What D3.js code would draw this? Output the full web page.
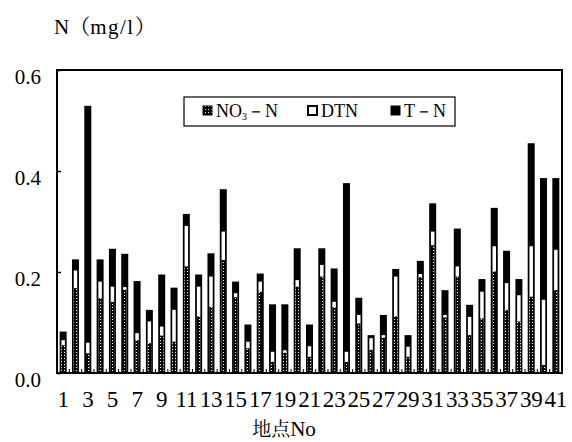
<!DOCTYPE html>
<html>
<head>
<meta charset="utf-8">
<script src="https://cdn.jsdelivr.net/npm/d3@7"></script>
<style>
body { margin: 0; background: #fff; }
</style>
</head>
<body>
<svg id="chart" width="572" height="442"></svg>
<script>
// station numbers and values (mg/l)
const stations = d3.range(1, 42)
const tn  = [0.082,0.225,0.529,0.225,0.246,0.236,0.182,0.125,0.195,0.169,0.315,0.195,0.237,0.364,0.181,0.096,0.197,0.136,0.136,0.247,0.096,0.247,0.207,0.376,0.149,0.075,0.115,0.206,0.075,0.222,0.336,0.164,0.286,0.135,0.186,0.327,0.242,0.186,0.455,0.386,0.386]
const dtn = [0.065,0.203,0.060,0.181,0.171,0.170,0.079,0.102,0.092,0.125,0.291,0.171,0.191,0.280,0.158,0.062,0.181,0.042,0.045,0.184,0.053,0.214,0.141,0.042,0.115,0.069,0.075,0.191,0.052,0.196,0.280,0.115,0.211,0.111,0.161,0.251,0.178,0.154,0.251,0.145,0.244]
const no3 = [0.055,0.168,0.039,0.148,0.141,0.165,0.065,0.059,0.074,0.062,0.211,0.112,0.131,0.224,0.150,0.049,0.161,0.022,0.040,0.171,0.032,0.191,0.130,0.022,0.098,0.046,0.070,0.112,0.032,0.190,0.253,0.110,0.191,0.075,0.108,0.201,0.125,0.102,0.151,0.016,0.164]
const yTicks = [0, 0.2, 0.4, 0.6]
const xTicks = stations.filter(d => d % 2 == 1)

const pLeft = 57, pRight = 562, pTop = 70, pBottom = 373
const serif = '"Liberation Serif"'
const mincho = '"Noto Serif CJK JP"'

let svg = d3.select("#chart")

// dotted fill for NO3-N
let pat = svg.append("defs").append("pattern")
    .attr("id", "dots").attr("patternUnits", "userSpaceOnUse")
    .attr("width", 3).attr("height", 3)
pat.append("rect").attr("width", 3).attr("height", 3).attr("fill", "#000")
pat.append("rect").attr("x", 1).attr("y", 1).attr("width", 1).attr("height", 1).attr("fill", "#fff")

let x = d3.scaleBand().domain(stations).range([pLeft, pRight]).padding(0)
let y = d3.scaleLinear().domain([0, 0.6]).range([pBottom, pTop])

const bw = 7, iw = 3.5
let rows = stations.map((s, i) => ({s: s, tn: tn[i], dtn: dtn[i], no3: no3[i]}))

let g = svg.append("g")
// T-N
g.selectAll(".tn").data(rows).enter().append("rect")
    .attr("x", d => x(d.s) + x.bandwidth() / 2 - bw / 2)
    .attr("y", d => y(d.tn))
    .attr("width", bw)
    .attr("height", d => y(0) - y(d.tn))
    .attr("fill", "#000")
// DTN
g.selectAll(".dtn").data(rows).enter().append("rect")
    .attr("x", d => x(d.s) + x.bandwidth() / 2 - iw / 2)
    .attr("y", d => y(d.dtn))
    .attr("width", iw)
    .attr("height", d => y(0) - y(d.dtn) - 2)
    .attr("fill", "#fff")
// NO3-N
g.selectAll(".no3").data(rows).enter().append("rect")
    .attr("x", d => x(d.s) + x.bandwidth() / 2 - iw / 2)
    .attr("y", d => y(d.no3))
    .attr("width", iw)
    .attr("height", d => y(0) - y(d.no3) - 2)
    .attr("fill", "url(#dots)")

// small ticks between stations on the bottom
g.selectAll(".btick").data(stations.slice(1)).enter().append("line")
    .attr("x1", d => x(d)).attr("x2", d => x(d))
    .attr("y1", pBottom).attr("y2", pBottom - 4)
    .attr("stroke", "#000").attr("stroke-width", 1)

// frame
svg.append("rect")
    .attr("x", pLeft).attr("y", pTop)
    .attr("width", pRight - pLeft).attr("height", pBottom - pTop)
    .attr("fill", "none").attr("stroke", "#000").attr("stroke-width", 2)

// y axis
let yAxis = d3.axisLeft(y).tickValues(yTicks).tickFormat(d3.format(".1f"))
    .tickSizeInner(-4).tickSizeOuter(0).tickPadding(16)
let ya = svg.append("g").attr("transform", `translate(${pLeft},0)`).call(yAxis)
ya.select(".domain").remove()
ya.selectAll("line").attr("stroke", "#000").attr("stroke-width", 1.5)
ya.selectAll("text").attr("font-size", 21).attr("dy", "0.62em").attr("fill", "#000")
    .style("font-family", serif)

// x axis
let xAxis = d3.axisBottom(x).tickValues(xTicks).tickSize(0).tickPadding(18)
let xa = svg.append("g").attr("transform", `translate(0,${pBottom})`).call(xAxis)
xa.select(".domain").remove()
xa.selectAll("text").attr("font-size", 23).attr("letter-spacing", -0.2).attr("fill", "#000")
    .style("font-family", serif)

// labels
let title = svg.append("text").attr("x", 54).attr("y", 34).attr("font-size", 21)
    .style("font-family", serif)
title.append("tspan").text("N")
title.append("tspan").style("font-family", mincho).text("（")
title.append("tspan").attr("letter-spacing", 1.5).text("mg/l")
title.append("tspan").style("font-family", mincho).text("）")

let xl = svg.append("text").attr("x", 284).attr("y", 436).attr("text-anchor", "middle")
    .attr("font-size", 21).style("font-family", serif)
xl.append("tspan").style("font-family", mincho).attr("font-size", 19).text("地点")
xl.append("tspan").text("No")

// legend
let lg = svg.append("g")
lg.append("rect").attr("x", 184).attr("y", 97).attr("width", 271).attr("height", 29)
    .attr("fill", "#fff").attr("stroke", "#000").attr("stroke-width", 1.2)
const legItems = [
    {fill: "url(#dots)", x: 203, label: "NO", sub: "3", rest: "－N"},
    {fill: "#fff", x: 308, label: "DTN"},
    {fill: "#000", x: 391, label: "T－N"}
]
legItems.forEach(it => {
    lg.append("rect").attr("x", it.x).attr("y", 106).attr("width", 9).attr("height", 9)
        .attr("fill", it.fill).attr("stroke", "#000").attr("stroke-width", it.fill == "#fff" ? 2 : 1)
    let t = lg.append("text").attr("x", it.x + 13).attr("y", 117).attr("font-size", 18)
        .style("font-family", serif)
    t.append("tspan").text(it.label)
    if (it.sub) {
        t.append("tspan").attr("font-size", 10).attr("dy", 3).text(it.sub)
        t.append("tspan").attr("dy", -3).text(it.rest)
    }
})
</script>
</body>
</html>
